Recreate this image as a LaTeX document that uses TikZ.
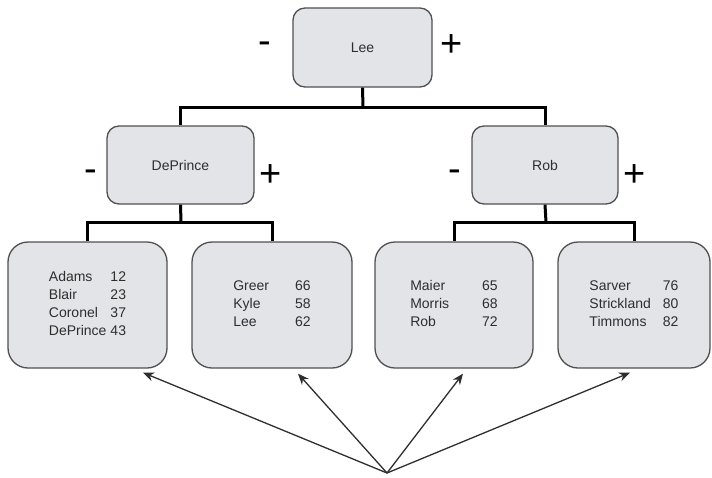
\documentclass[tikz,border=0pt]{standalone}
\usepackage{fontspec}
\setmainfont{Liberation Sans}
\usetikzlibrary{calc,arrows.meta}
\definecolor{boxfill}{HTML}{E3E4E8}
\definecolor{boxline}{HTML}{505050}
\definecolor{inkgray}{HTML}{2E2E2E}
\tikzset{
  keybox/.style={draw=boxline, line width=1.3pt, fill=boxfill, rounded corners=12pt,
    inner sep=0pt, font=\fontsize{14}{17}\selectfont, text=inkgray},
  leafbox/.style={keybox, rounded corners=20pt, minimum height=126pt},
  branch/.style={line width=3pt, black},
  sign/.style={font=\fontsize{38}{40}\selectfont, inner sep=0pt, anchor=base, text=black},
  pointer/.style={line width=1.3pt, inkgray, -{Stealth[length=11pt,width=9pt]}},
}
\newcommand{\leaflist}[2]{{\fontsize{14}{18}\selectfont\begin{tabular}{@{}l@{\hspace{#1}}l@{}}#2\end{tabular}}}
\begin{document}
\begin{tikzpicture}[x=1pt,y=-1pt]
\useasboundingbox (0,0) rectangle (712,477);

% root and second level
\node[keybox, minimum width=139pt, minimum height=79pt] (root) at (362.5,47.5) {Lee};
\node[keybox, minimum width=147pt, minimum height=78pt] (dep) at (180.5,165) {DePrince};
\node[keybox, minimum width=146pt, minimum height=78pt] (rob) at (545,165) {Rob};

% leaves
\node[leafbox, minimum width=159pt] (leafa) at (87.5,305)
  {\leaflist{4pt}{Adams & 12\\ Blair & 23\\ Coronel & 37\\ DePrince & 43}};
\node[leafbox, minimum width=160pt] (leafb) at (272,305)
  {\leaflist{26pt}{Greer & 66\\ Kyle & 58\\ Lee & 62}};
\node[leafbox, minimum width=158pt] (leafc) at (454,305)
  {\leaflist{33pt}{Maier & 65\\ Morris & 68\\ Rob & 72}};
\node[leafbox, minimum width=152pt] (leafd) at (634,305)
  {\leaflist{12pt}{Sarver & 76\\ Strickland & 80\\ Timmons & 82}};

% minus / plus marks beside the inner nodes
\node[sign] (rootminus) at (265,53) {-};
\node[sign] (rootplus) at (452,56) {+};
\node[sign] (depminus) at (91,181) {-};
\node[sign] (depplus) at (271,186) {+};
\node[sign] (robminus) at (455,181) {-};
\node[sign] (robplus) at (635,186) {+};

% tree branches
\coordinate (j0) at (363,107);
\coordinate (j1) at (181,222);
\coordinate (j2) at (546,222);
\draw[branch] (root.south) -- (j0);
\draw[branch] (dep.north) |- (j0) -| (rob.north);
\draw[branch] (dep.south) -- (j1);
\draw[branch] (leafa.north) |- (j1) -| (leafb.north);
\draw[branch] (rob.south) -- (j2);
\draw[branch] (leafc.north) |- (j2) -| (leafd.north);

% pointers to the leaves
\coordinate (apex) at (387,473);
\draw[pointer] (apex) -- ($(leafa.south)+(55.5,4)$);
\draw[pointer] (apex) -- ($(leafb.south)+(26,5)$);
\draw[pointer] (apex) -- ($(leafc.south)+(9,5)$);
\draw[pointer] (apex) -- ($(leafd.south)+(-4,4)$);
\end{tikzpicture}
\end{document}
